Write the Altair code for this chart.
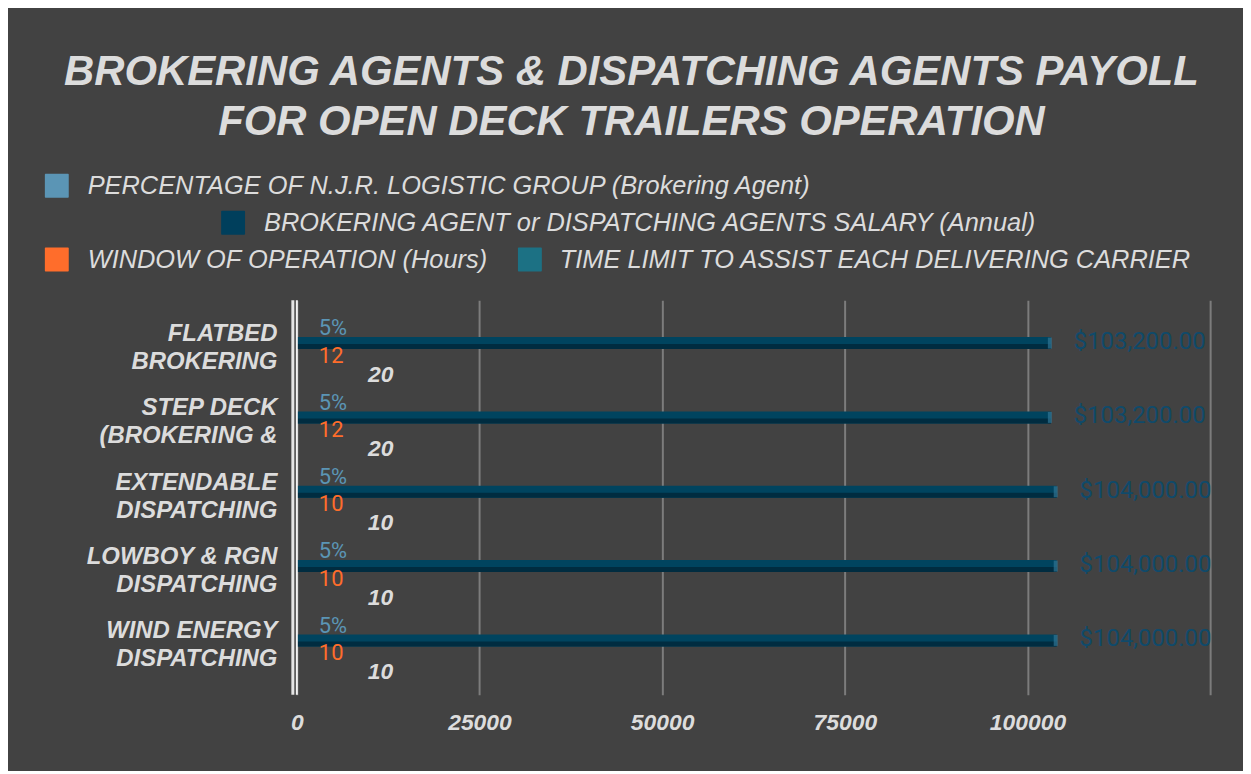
import altair as alt
import pandas as pd

# ---------------- data ----------------
categories = [
    "FLATBED\nBROKERING",
    "STEP DECK\n(BROKERING &",
    "EXTENDABLE\nDISPATCHING",
    "LOWBOY & RGN\nDISPATCHING",
    "WIND ENERGY\nDISPATCHING",
]
series_names = [
    "PERCENTAGE OF N.J.R. LOGISTIC GROUP (Brokering Agent)",
    "BROKERING AGENT or DISPATCHING AGENTS SALARY (Annual)",
    "WINDOW OF OPERATION (Hours)",
    "TIME LIMIT TO ASSIST EACH DELIVERING CARRIER",
]
series_keys = ["pct", "sal", "win", "time"]
series_colors = ["#5b95b5", "#003f5c", "#ff6d2b", "#1c7184"]

percentage = [0.05, 0.05, 0.05, 0.05, 0.05]
salary = [103200, 103200, 104000, 104000, 104000]
window_hours = [12, 12, 10, 10, 10]
time_limit = [20, 20, 10, 10, 10]

x_ticks = [0, 25000, 50000, 75000, 100000, 125000]
title_lines = [
    "BROKERING AGENTS & DISPATCHING AGENTS PAYOLL",
    "FOR OPEN DECK TRAILERS OPERATION",
]

rows = []
for i, cat in enumerate(categories):
    for key, name, vals in zip(series_keys, series_names,
                               [percentage, salary, window_hours, time_limit]):
        rows.append({"category": cat, "series": name, "key": key, "value": vals[i]})
df = pd.DataFrame(rows)

# ---------------- styling ----------------
BG = "#424242"
TXT = "#dcdcdc"
FONT = "Liberation Sans"

y_enc = alt.Y(
    "category:N",
    sort=categories,
    scale=alt.Scale(paddingInner=0, paddingOuter=0.153, align=0.42),
    axis=alt.Axis(
        title=None, domain=False, ticks=False, grid=False,
        labelExpr="split(datum.label, '\\n')",
        labelFont=FONT, labelFontSize=24, labelFontWeight="bold",
        labelFontStyle="italic", labelColor=TXT, labelPadding=20,
        labelLimit=400, labelLineHeight=28, labelOffset=-13,
    ),
)
yoff_enc = alt.YOffset(
    "series:N",
    sort=series_names,
    scale=alt.Scale(domain=series_names, paddingInner=0.1, paddingOuter=0.9),
)
x_enc = alt.X(
    "value:Q",
    scale=alt.Scale(domain=[0, 125000], nice=False, zero=True),
    axis=alt.Axis(
        title=None, values=x_ticks, format="d", domain=False, ticks=False,
        grid=True, gridColor="#7c7c7c", gridWidth=2,
        labelExpr="datum.value >= 125000 ? '' : datum.label",
        labelFont=FONT, labelFontSize=23, labelFontWeight="bold",
        labelFontStyle="italic", labelColor=TXT, labelPadding=17,
        labelFlush=False,
    ),
)
color_enc = alt.Color(
    "series:N",
    scale=alt.Scale(domain=series_names, range=series_colors),
    legend=None,
)

base = alt.Chart(df).encode(y=y_enc, yOffset=yoff_enc, x=x_enc)

small_bars = base.transform_filter(alt.datum.key != "sal").mark_bar(
    x2Offset=-4
).encode(color=color_enc)

# salary bars: positioned on the category band, drawn with a 3-D like shading
sal = alt.Chart(df).transform_filter(alt.datum.key == "sal").encode(y=y_enc, x=x_enc)
sal_bar = sal.mark_bar(x2Offset=-4, height=12, yOffset=-4, color="#00445f")
sal_shade = sal.mark_bar(x2Offset=-4, height=5, yOffset=-0.5, color="#002c40")
sal_cap = sal.mark_tick(
    xOffset=-1, thickness=4, size=11, yOffset=-4, color="#2f7594"
)

zero_line = alt.Chart(pd.DataFrame({"value": [0]})).mark_rule(
    color="#f2f2f2", strokeWidth=2
).encode(x="value:Q")
wall_line = alt.Chart(pd.DataFrame({"value": [0]})).mark_rule(
    color="#e4e4e4", strokeWidth=3, xOffset=-4
).encode(x="value:Q")

lbl_pct = base.transform_filter(alt.datum.key == "pct").mark_text(
    align="left", baseline="middle", dx=22, dy=1, font="Roboto",
    fontSize=22, color="#5b95b5"
).encode(text=alt.Text("value:Q", format=".0%"))
lbl_sal = sal.mark_text(
    align="left", baseline="middle", dx=23, dy=-5, font="Roboto",
    fontSize=24, color="#104a6a"
).encode(text=alt.Text("value:Q", format="$,.2f"))
lbl_win = base.transform_filter(alt.datum.key == "win").mark_text(
    align="left", baseline="middle", dx=22, dy=2, font="Roboto",
    fontSize=22, color="#ff6d2b"
).encode(text=alt.Text("value:Q", format="d"))
lbl_time = base.transform_filter(alt.datum.key == "time").mark_text(
    align="center", baseline="middle", dx=84, dy=8, font=FONT,
    fontSize=23, fontWeight="bold", fontStyle="italic", color=TXT
).encode(text=alt.Text("value:Q", format="d"))

# ---------------- legend (laid out like the original, wrapped lines) -------
legend_layout = [  # square left, square top, text left, text baseline
    (-253, -127, -210, -107),
    (-76, -90, -33, -70),
    (-253, -53, -210, -32),
    (222, -53, 264, -32),
]
legend_layers = []
for name, (sx, sy, tx, ty) in zip(series_names, legend_layout):
    ld = alt.Data(values=[{"series": name}])
    legend_layers.append(
        alt.Chart(ld).mark_rect(cornerRadius=1).encode(
            x=alt.value(sx), x2=alt.value(sx + 24),
            y=alt.value(sy), y2=alt.value(sy + 24),
            color=color_enc,
        )
    )
    legend_layers.append(
        alt.Chart(ld).mark_text(
            align="left", baseline="alphabetic", font=FONT, fontSize=25.5,
            fontStyle="italic", color=TXT
        ).encode(x=alt.value(tx), y=alt.value(ty), text="series:N")
    )

chart = alt.layer(
    small_bars, sal_bar, sal_shade, sal_cap, wall_line, zero_line,
    lbl_pct, lbl_sal, lbl_win, lbl_time, *legend_layers
).properties(
    width=917,
    height=396,
    title=alt.TitleParams(
        text=title_lines, font=FONT, fontSize=42, fontWeight="bold",
        fontStyle="italic", color=TXT, anchor="start", frame="group",
        align="center", dx=336, lineHeight=50, offset=30,
    ),
    autosize=alt.AutoSizeParams(type="none"),
    padding={"left": 290, "top": 292, "right": 33, "bottom": 75},
    background=BG,
).configure_view(stroke=None)

chart.save("out.html", embed_options={"renderer": "svg", "actions": False})
